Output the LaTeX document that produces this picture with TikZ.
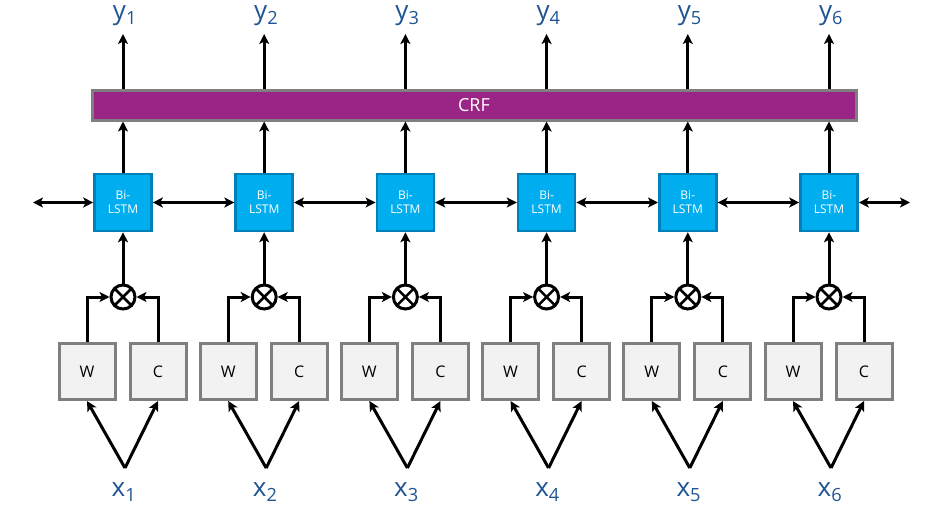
\documentclass[tikz,border=0pt]{standalone}
\usepackage{fontspec}
\setmainfont{Open Sans}
\usetikzlibrary{arrows.meta}
\definecolor{crfpurple}{HTML}{9B2586}
\definecolor{lstmfill}{HTML}{00AEEF}
\definecolor{lstmedge}{HTML}{0080B8}
\definecolor{lblblue}{HTML}{1F5592}
\definecolor{boxfill}{HTML}{F2F2F2}
\definecolor{boxedge}{HTML}{7F7F7F}
\tikzset{
  x=1pt,y=-1pt,
  tip/.style={},
  conn/.style={line width=3pt,draw=black,-{Stealth[length=10pt,width=10pt,inset=2.5pt]}},
  biconn/.style={line width=3pt,draw=black,{Stealth[length=10pt,width=10pt,inset=2.5pt]}-{Stealth[length=10pt,width=10pt,inset=2.5pt]}},
  lstm/.style={draw=lstmedge,fill=lstmfill,line width=2.6pt,minimum width=57pt,minimum height=57pt,inner sep=0pt,
    text=white,font=\fontsize{12}{14}\selectfont,align=center},
  wcbox/.style={draw=boxedge,fill=boxfill,line width=3pt,minimum width=56pt,minimum height=56pt,inner sep=0pt,
    font=\fontsize{16}{16}\selectfont},
  mult/.style={circle,draw=black,line width=3pt,minimum size=24pt,inner sep=0pt,
    path picture={\draw[line width=2.6pt] (path picture bounding box.south west)--(path picture bounding box.north east)
      (path picture bounding box.north west)--(path picture bounding box.south east);}},
  lbl/.style={text=lblblue,font=\fontsize{26}{26}\selectfont,inner sep=0pt},
}
\begin{document}
\begin{tikzpicture}
\useasboundingbox (0,0) rectangle (939,527);
\node[draw=boxedge,fill=crfpurple,line width=3pt,minimum width=764pt,minimum height=30pt,inner sep=0pt,
  text=white,font=\fontsize{18}{18}\selectfont] (crf) at (474,105) {CRF};
\foreach \i in {1,...,6}{
  \pgfmathsetmacro{\cx}{123+141.2*(\i-1)}
  \node[lstm] (b\i) at (\cx,202.5) {Bi-\\LSTM};
  \node[mult] (m\i) at (\cx,297) {};
  \node[wcbox] (w\i) at (\cx-36,371.5) {W};
  \node[wcbox] (c\i) at (\cx+35,371.5) {C};
  \coordinate (xp\i) at (\cx+2,468);
  \node[lbl] (x\i) at (\cx+1,492) {x\textsubscript{\i}};
  \node[lbl] (y\i) at (\cx+2,16) {y\textsubscript{\i}};
  \coordinate (yt\i) at (\cx,34);
  \draw[conn] (b\i.north) -- (b\i.north |- crf.south);
  \draw[conn] (b\i.north |- crf.north) -- (yt\i);
  \draw[conn] (m\i.north) -- (b\i.south);
  \draw[conn] (w\i.north) |- (m\i.west);
  \draw[conn] (c\i.north) |- (m\i.east);
  \draw[conn] (xp\i) -- (w\i.south);
  \draw[conn] (xp\i) -- (c\i.south);
}
\coordinate (lend) at (33,202.5);
\coordinate (rend) at (910,202.5);
\draw[biconn] (lend) -- (b1.west);
\foreach \i/\j in {1/2,2/3,3/4,4/5,5/6}{
  \draw[biconn] (b\i.east) -- (b\j.west);
}
\draw[biconn] (b6.east) -- (rend);
\end{tikzpicture}
\end{document}
